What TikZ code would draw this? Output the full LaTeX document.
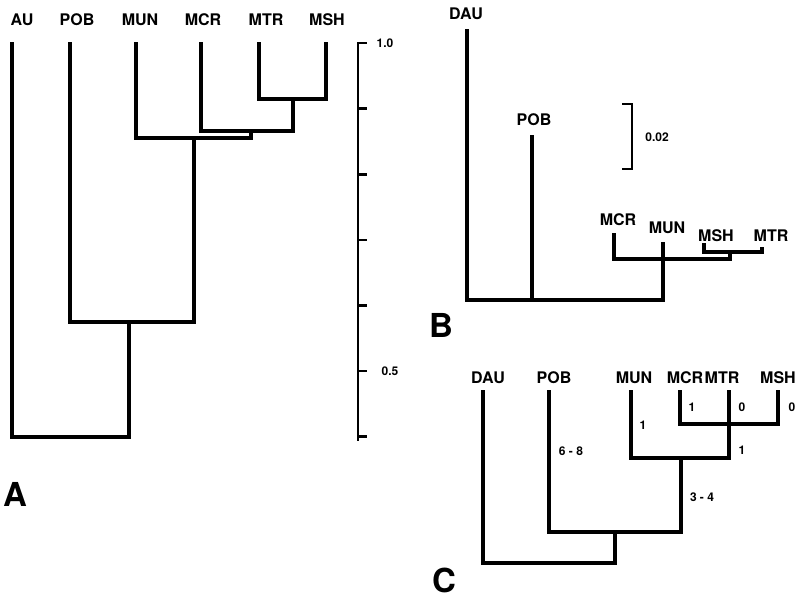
\documentclass[tikz,border=0pt]{standalone}
\usepackage{fontspec}
\setmainfont{TeX Gyre Heros}
\begin{document}
\begin{tikzpicture}[x=1pt,y=-1pt,
  br/.style={line width=3.2pt, line join=miter, line cap=butt},
  tk/.style={line width=2.6pt, line cap=butt},
  lab/.style={font=\fontsize{16}{16}\selectfont\bfseries, inner sep=0pt},
  num/.style={font=\fontsize{12}{12}\selectfont\bfseries, inner sep=0pt},
  big/.style={font=\fontsize{33}{33}\selectfont\bfseries, inner sep=0pt}]
\useasboundingbox (0,0) rectangle (801,600);
\fill[white] (0,0) rectangle (801,600);
% ---------------- Panel A ----------------
\node[lab] (lAU)  at (22,20)  {AU};
\node[lab] (lPOBa) at (77,20)  {POB};
\node[lab] (lMUNa) at (140,20) {MUN};
\node[lab] (lMCRa) at (203,20) {MCR};
\node[lab] (lMTRa) at (266,20) {MTR};
\node[lab] (lMSHa) at (327,20) {MSH};
\coordinate (aAU)  at (12,42);
\coordinate (aPOB) at (70,42);
\coordinate (aMUN) at (136,42);
\coordinate (aMCR) at (201,42);
\coordinate (aMTR) at (259,42);
\coordinate (aMSH) at (326,42);
\coordinate (a1) at (293,99);
\coordinate (a2) at (251,131);
\coordinate (a3) at (194,138);
\coordinate (a4) at (129,322);
\coordinate (a5) at (70,437);
\draw[br] (aMTR) |- (a1) -| (aMSH);
\draw[br] (aMCR) |- (a2) -| (a1);
\draw[br] (aMUN) |- (a3) -| (a2);
\draw[br] (aPOB) |- (a4) -| (a3);
\draw[br] (aAU) |- (a5) -| (a4);
% scale
\coordinate (s0) at (358,43);
\coordinate (s1) at (358,441);
\draw[tk] (s0) -- (s1);
\foreach \y in {43,108.6,174.2,239.8,305.4,371,436.6}
  \draw[tk] (357,\y) -- (367,\y);
\node[num] (t10) at (385,43) {1.0};
\node[num] (t05) at (390,371) {0.5};
\node[big] (capA) at (15,494) {A};
% ---------------- Panel B ----------------
\node[lab] (lDAUb) at (466,14)  {DAU};
\node[lab] (lPOBb) at (534,120) {POB};
\node[lab] (lMCRb) at (618,220) {MCR};
\node[lab] (lMUNb) at (667,228) {MUN};
\node[lab] (lMSHb) at (716,236) {MSH};
\node[lab] (lMTRb) at (771,236) {MTR};
\coordinate (bDAU) at (467,29);
\coordinate (bPOB) at (532,135);
\coordinate (bMUN) at (663,242);
\coordinate (bMCR) at (614,233);
\coordinate (bMSH) at (704,243);
\coordinate (bMTR) at (762,247);
\coordinate (bR)  at (532,300);
\coordinate (b1) at (730,252);
\coordinate (b2) at (730,259);
\draw[br] (bDAU) |- (bR) -| (bMUN);
\draw[br] (bPOB) -- (bR);
\draw[br] (bMCR) |- (b2) -- (b1);
\draw[br] (bMSH) |- (b1) -| (bMTR);
\draw[tk] (622,104) -- (632,104) -- (632,169) -- (622,169);
\node[num] (s002) at (657,137) {0.02};
\node[big] (capB) at (441,325) {B};
% ---------------- Panel C ----------------
\node[lab] (lDAUc) at (488,378) {DAU};
\node[lab] (lPOBc) at (554,378) {POB};
\node[lab] (lMUNc) at (634,378) {MUN};
\node[lab] (lMCRc) at (685,378) {MCR};
\node[lab] (lMTRc) at (722,378) {MTR};
\node[lab] (lMSHc) at (778,378) {MSH};
\coordinate (cDAU) at (483,390);
\coordinate (cPOB) at (549,390);
\coordinate (cMUN) at (631,390);
\coordinate (cMCR) at (680,390);
\coordinate (cMTR) at (729,390);
\coordinate (cMSH) at (778,390);
\coordinate (c1) at (729,424);
\coordinate (c2) at (681,458);
\coordinate (c3) at (615,532);
\coordinate (c4) at (549,563);
\draw[br] (cMCR) |- (c1) -| (cMSH);
\draw[br] (cMUN) |- (c2) -| (cMTR);
\draw[br] (cPOB) |- (c3) -| (c2);
\draw[br] (cDAU) |- (c4) -| (c3);
\node[num] (n1) at (692,407) {1};
\node[num] (n2) at (742,407) {0};
\node[num] (n3) at (792,407) {0};
\node[num] (n4) at (643,425) {1};
\node[num] (n5) at (571,451) {6 - 8};
\node[num] (n6) at (742,450) {1};
\node[num] (n7) at (702,497) {3 - 4};
\node[big] (capC) at (444,580) {C};
\end{tikzpicture}
\end{document}
